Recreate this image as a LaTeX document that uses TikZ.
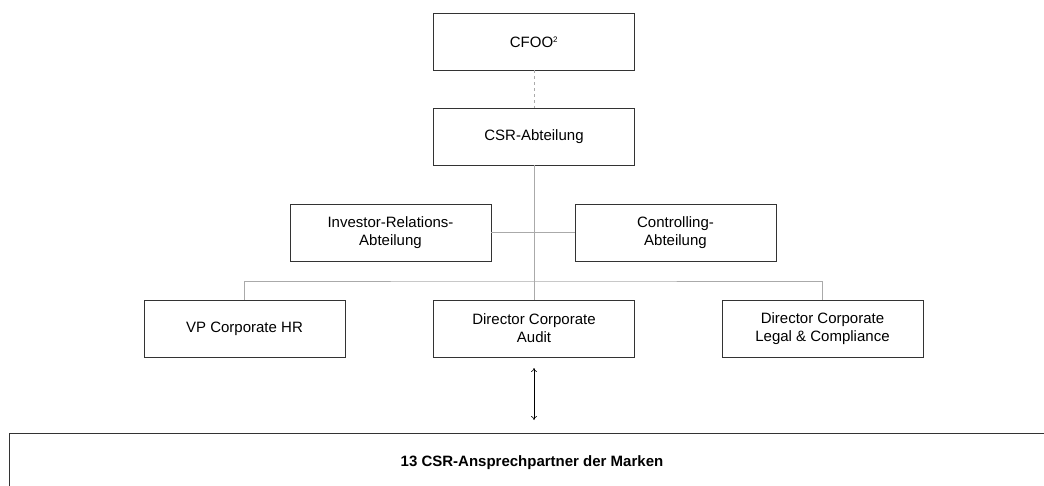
\documentclass[tikz,border=0pt]{standalone}
\usepackage{fontspec}
\setmainfont{Liberation Sans}
\usetikzlibrary{arrows.meta}
\definecolor{boxline}{HTML}{333333}
\definecolor{conn}{HTML}{AAAAAA}
\tikzset{
  orgbox/.style={draw=boxline, line width=0.8pt, minimum width=201pt, minimum height=57pt,
    inner sep=0pt, outer sep=0pt, align=center, font=\fontsize{15}{18}\selectfont},
  connline/.style={draw=conn, line width=0.8pt},
  dashconn/.style={draw=conn, line width=0.8pt, dash pattern=on 3pt off 3pt},
  biarrow/.style={draw=black, line width=0.6pt, {To[length=4pt,width=6pt]}-{To[length=4pt,width=6pt]}}
}
\begin{document}
\begin{tikzpicture}[x=1pt,y=-1pt]
\useasboundingbox (0,0) rectangle (1044,486);
\node[orgbox] (cfoo) at (534,42) {CFOO\textsuperscript{\fontsize{8}{8}\selectfont 2}};
\node[orgbox] (csr) at (534,137) {CSR-Abteilung};
\node[orgbox] (ir) at (390.5,232.5) {Investor-Relations-\\Abteilung};
\node[orgbox] (ctrl) at (675.5,232.5) {Controlling-\\Abteilung};
\node[orgbox] (vp) at (244.5,328.5) {VP Corporate HR};
\node[orgbox] (audit) at (534,328.5) {Director Corporate\\Audit};
\node[orgbox] (legal) at (822.5,328.5) {Director Corporate\\Legal \& Compliance};
\coordinate (bar) at (534,281);
\coordinate (arrtop) at (534,368);
\coordinate (arrbot) at (534,420);
\draw[dashconn] (cfoo.south) -- (csr.north);
\draw[connline] (csr.south) -- (audit.north);
\draw[connline] (ir.east) -- (ctrl.west);
\draw[connline] (vp.north) |- (bar) -| (legal.north);
\draw[biarrow] (arrtop) -- (arrbot);
\begin{scope}
\clip (0,0) rectangle (1044,486);
\draw[draw=boxline, line width=0.8pt] (9,520) -- (9,433) -- (1060,433);
\end{scope}
\node[font=\fontsize{15}{18}\selectfont\bfseries] (brands) at (532,463) {13 CSR-Ansprechpartner der Marken};
\end{tikzpicture}
\end{document}
